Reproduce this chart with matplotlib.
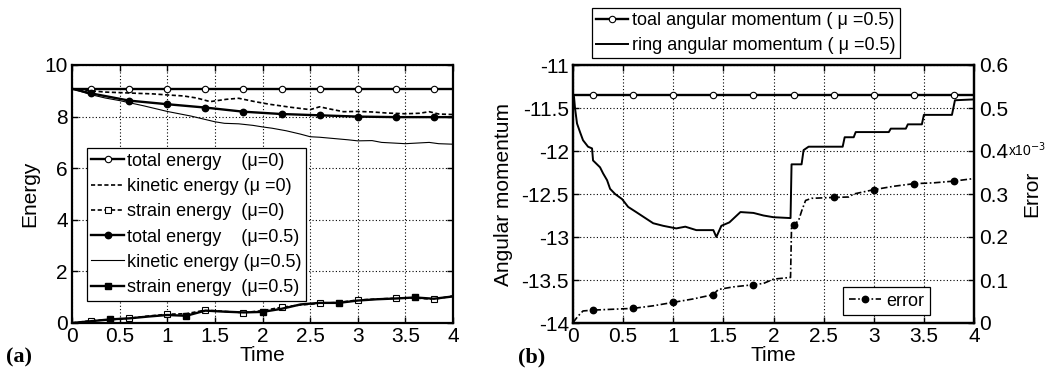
import numpy as np
import matplotlib
matplotlib.use("Agg")
import matplotlib.pyplot as plt

plt.rcParams['font.family'] = ['Liberation Sans', 'DejaVu Sans']

# ---------------- data: panel (a) ----------------
mk_t = [0.2, 0.6, 1.0, 1.4, 1.8, 2.2, 2.6, 3.0, 3.4, 3.8]
mk_sq05 = [0.4, 1.2, 2.0, 2.8, 3.6]

t_tot = [0, 0.2, 0.6, 1.0, 1.4, 1.8, 2.2, 2.6, 3.0, 3.4, 3.8, 4.0]
E_tot0 = [9.08, 9.08, 9.08, 9.08, 9.08, 9.08, 9.08, 9.08, 9.08, 9.08, 9.08, 9.08]
E_tot05 = [9.08, 8.9, 8.62, 8.48, 8.35, 8.19, 8.1, 8.05, 8.0, 7.98, 7.98, 7.98]

t_kin0 = [0, 0.2, 0.35, 0.5, 0.7, 0.85, 1.0, 1.17, 1.31, 1.45, 1.62, 1.75, 1.92, 2.07,
          2.3, 2.5, 2.6, 2.7, 2.85, 3.0, 3.15, 3.3, 3.5, 3.65, 3.75, 3.85, 4.0]
E_kin0 = [9.08, 9.0, 8.95, 8.93, 8.9, 8.88, 8.84, 8.8, 8.72, 8.58, 8.67, 8.71, 8.58, 8.48,
          8.36, 8.27, 8.38, 8.3, 8.19, 8.2, 8.18, 8.14, 8.11, 8.13, 8.19, 8.1, 8.08]

t_kin05 = [0, 0.2, 0.35, 0.5, 0.75, 1.0, 1.25, 1.5, 1.6, 1.75, 1.9, 2.0, 2.1, 2.25,
           2.4, 2.5, 2.6, 2.75, 2.9, 3.0, 3.15, 3.25, 3.4, 3.5, 3.6, 3.75, 3.85, 4.0]
E_kin05 = [9.08, 8.85, 8.72, 8.62, 8.42, 8.2, 8.02, 7.8, 7.74, 7.72, 7.66, 7.6, 7.55, 7.45,
           7.32, 7.22, 7.2, 7.15, 7.1, 7.06, 7.07, 7.0, 6.97, 6.95, 6.97, 7.0, 6.95, 6.93]

t_str = [0, 0.2, 0.4, 0.6, 0.8, 1.0, 1.2, 1.4, 1.6, 1.8, 2.0, 2.2, 2.4, 2.6, 2.8,
         3.0, 3.2, 3.4, 3.6, 3.8, 4.0]
E_str0 = [0.0, 0.09, 0.13, 0.18, 0.27, 0.34, 0.36, 0.5, 0.45, 0.4, 0.48, 0.61, 0.7,
          0.76, 0.8, 0.89, 0.93, 0.96, 0.97, 0.92, 1.05]
E_str05 = [0.0, 0.07, 0.14, 0.18, 0.25, 0.31, 0.28, 0.48, 0.44, 0.41, 0.43, 0.55, 0.72,
           0.78, 0.78, 0.87, 0.92, 0.95, 0.99, 0.94, 1.03]

x_ticks = [0, 0.5, 1, 1.5, 2, 2.5, 3, 3.5, 4]
x_labels = ['0', '0.5', '1', '1.5', '2', '2.5', '3', '3.5', '4']
ya_ticks = [0, 2, 4, 6, 8, 10]

# ---------------- data: panel (b) ----------------
L_tot = [-11.35, -11.35, -11.35, -11.35, -11.35, -11.35, -11.35, -11.35, -11.35,
         -11.35, -11.35, -11.35]

t_ring = [0, 0.01, 0.02, 0.04, 0.07, 0.1, 0.15, 0.19, 0.2, 0.27, 0.3, 0.34, 0.37, 0.42,
          0.49, 0.55, 0.63, 0.8, 0.9, 1.03, 1.12, 1.23, 1.4, 1.43, 1.48, 1.56, 1.67, 1.8,
          1.9, 2.0, 2.17, 2.18, 2.28, 2.3, 2.35, 2.69, 2.71, 2.8, 2.82, 3.15, 3.17, 3.32,
          3.34, 3.48, 3.5, 3.78, 3.81, 4.0]
L_ring = [-11.35, -11.37, -11.5, -11.68, -11.78, -11.875, -11.95, -11.97, -12.11, -12.19,
          -12.26, -12.34, -12.44, -12.5, -12.56, -12.65, -12.71, -12.84, -12.87, -12.9,
          -12.88, -12.92, -12.92, -13.0, -12.87, -12.83, -12.71, -12.72, -12.75, -12.77,
          -12.78, -12.155, -12.155, -11.99, -11.95, -11.95, -11.84, -11.84, -11.78, -11.78,
          -11.74, -11.74, -11.69, -11.69, -11.58, -11.58, -11.41, -11.40]

t_err = [0, 0.05, 0.1, 0.2, 0.4, 0.6, 0.8, 1.0, 1.2, 1.4, 1.45, 1.6, 1.8, 1.9, 2.0, 2.17,
         2.18, 2.2, 2.25, 2.28, 2.32, 2.38, 2.6, 2.75, 2.8, 3.0, 3.2, 3.4, 3.6, 3.8, 4.0]
err = [0.001, 0.016, 0.028, 0.03, 0.032, 0.034, 0.04, 0.048, 0.056, 0.066, 0.078, 0.084,
       0.089, 0.092, 0.102, 0.106, 0.226, 0.228, 0.238, 0.26, 0.285, 0.29, 0.292, 0.293,
       0.3, 0.31, 0.318, 0.324, 0.326, 0.33, 0.336]

yb_ticks = [-14, -13.5, -13, -12.5, -12, -11.5, -11]
yb_labels = ['-14', '-13.5', '-13', '-12.5', '-12', '-11.5', '-11']
yc_ticks = [0, 0.1, 0.2, 0.3, 0.4, 0.5, 0.6]
yc_labels = ['0', '0.1', '0.2', '0.3', '0.4', '0.5', '0.6']


def idx(t, marks):
    t = np.asarray(t)
    return [int(np.argmin(np.abs(t - m))) for m in marks]


FS = 15
LFS = 13
MS = 4.6
W = 1063
H = 376
fig = plt.figure(figsize=(W / 100, H / 100), dpi=100)


def style_axes(ax):
    for s in ax.spines.values():
        s.set_linewidth(1.6)
    ax.grid(True, color='black', linestyle=(0, (1, 2)), linewidth=0.8)
    ax.tick_params(direction='in', length=4, width=1, labelsize=FS, top=True, pad=3)


leg_kw = dict(fontsize=LFS, frameon=True, fancybox=False, edgecolor='black',
              framealpha=1, handlelength=1.8, handletextpad=0.2, borderaxespad=0)

# ---------------- panel (a) ----------------
axa = fig.add_axes([72 / W, 1 - 323 / H, 381 / W, 258 / H])
axa.plot(t_tot, E_tot0, '-', color='black', lw=1.7, marker='o', ms=MS, mfc='white',
         mec='black', mew=0.8, markevery=idx(t_tot, mk_t),
         label='total energy    (μ=0)')
axa.plot(t_kin0, E_kin0, color='black', lw=1.2, linestyle=(0, (2.5, 1.5)),
         label='kinetic energy (μ =0)')
axa.plot(t_str, E_str0, color='black', lw=1.2, linestyle=(0, (2.5, 1.5)), marker='s',
         ms=MS, mfc='white', mec='black', mew=0.8, markevery=idx(t_str, mk_t),
         label='strain energy  (μ=0)')
axa.plot(t_tot, E_tot05, '-', color='black', lw=1.7, marker='o', ms=MS, mfc='black',
         mec='black', markevery=idx(t_tot, mk_t),
         label='total energy    (μ=0.5)')
axa.plot(t_kin05, E_kin05, '-', color='black', lw=0.8,
         label='kinetic energy (μ=0.5)')
axa.plot(t_str, E_str05, '-', color='black', lw=1.7, marker='s', ms=MS, mfc='black',
         mec='black', markevery=idx(t_str, mk_sq05),
         label='strain energy  (μ=0.5)')
axa.set_xlim(0, 4)
axa.set_ylim(0, 10)
axa.set_xticks(x_ticks)
axa.set_xticklabels(x_labels)
axa.set_yticks(ya_ticks)
axa.set_yticklabels([str(v) for v in ya_ticks])
style_axes(axa)
axa.tick_params(right=True)
axa.set_xlabel('Time', fontsize=FS, labelpad=0)
axa.set_ylabel('Energy', fontsize=FS, labelpad=4)
lga = axa.legend(loc='upper left', bbox_to_anchor=(0.039, 0.678), labelspacing=0.46,
                 borderpad=0.25, **leg_kw)
lga.get_frame().set_linewidth(0.9)

# ---------------- panel (b) ----------------
axb = fig.add_axes([573 / W, 1 - 323 / H, 401 / W, 258 / H])
l1, = axb.plot(t_tot, L_tot, '-', color='black', lw=1.7, marker='o', ms=MS, mfc='white',
               mec='black', mew=0.8, markevery=idx(t_tot, mk_t),
               label='toal angular momentum ( μ =0.5)')
l2, = axb.plot(t_ring, L_ring, '-', color='black', lw=1.4,
               label='ring angular momentum ( μ =0.5)')
axb.set_xlim(0, 4)
axb.set_ylim(-14, -11)
axb.set_xticks(x_ticks)
axb.set_xticklabels(x_labels)
axb.set_yticks(yb_ticks)
axb.set_yticklabels(yb_labels)
style_axes(axb)
axb.set_xlabel('Time', fontsize=FS, labelpad=0)
axb.set_ylabel('Angular momentum', fontsize=FS, labelpad=6)

axc = axb.twinx()
l3, = axc.plot(t_err, err, color='black', lw=1.2, linestyle=(0, (4, 1.5, 1, 1.5)),
               marker='o', ms=MS, mfc='black', mec='black',
               markevery=idx(t_err, mk_t), label='error')
axc.set_ylim(0, 0.6)
axc.set_yticks(yc_ticks)
axc.set_yticklabels(yc_labels)
axc.tick_params(direction='in', length=4, width=1, labelsize=FS, pad=4)
for s in axc.spines.values():
    s.set_linewidth(1.6)
axc.set_ylabel('Error', fontsize=FS, labelpad=10)
fig.text(1008 / W, 1 - 150 / H, 'x10$^{-3}$', fontsize=10, va='center', ha='left')

lgb = fig.legend(handles=[l1, l2], loc='upper left', bbox_to_anchor=(592 / W, 1 - 8 / H),
                 labelspacing=0.47, borderpad=0.22, **leg_kw)
lgb.get_frame().set_linewidth(0.9)

lgc = axc.legend(handles=[l3], loc='lower right', bbox_to_anchor=(0.89, 0.031),
                 labelspacing=0.3, borderpad=0.3,
                 **{**leg_kw, 'handletextpad': 0.3})
lgc.get_frame().set_linewidth(0.9)

fig.text(6 / W, 1 - 357 / H, '(a)', fontsize=16, fontweight='bold',
         family='Liberation Serif', va='center', ha='left')
fig.text(518 / W, 1 - 357 / H, '(b)', fontsize=16, fontweight='bold',
         family='Liberation Serif', va='center', ha='left')

fig.savefig('out.png', dpi=100)
